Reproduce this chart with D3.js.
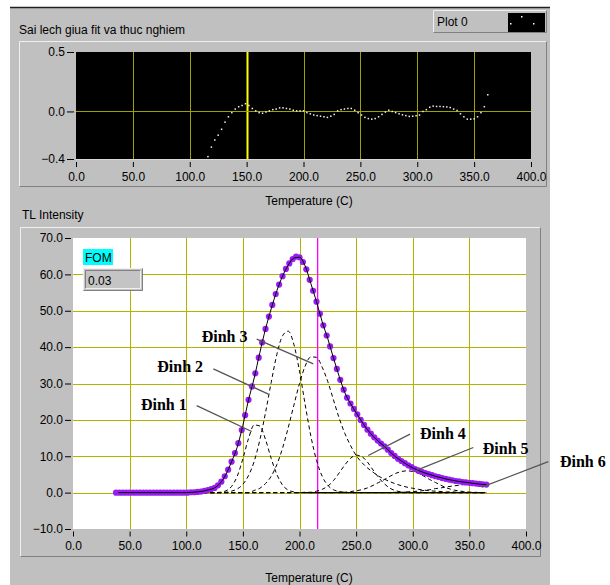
<!DOCTYPE html>
<html>
<head>
<meta charset="utf-8">
<script src="https://cdn.jsdelivr.net/npm/d3@7"></script>
<style>
    body { margin: 0; background: #fff; }
    text { font-family: "Liberation Sans", Arial, sans-serif; font-size: 12px; fill: #000; }
    .peak_label { font-family: "Liberation Serif", serif; font-weight: bold; font-size: 16px; }
</style>
</head>
<body>
<svg id="chart_svg" width="610" height="585"></svg>
<script>
// ---- data ----
var xTicks = [0, 50, 100, 150, 200, 250, 300, 350, 400];
var resTicks = [-0.4, 0.0, 0.5];
var tlTicks = [-10, 0, 10, 20, 30, 40, 50, 60, 70];
var cursorTemp = 150;      // yellow cursor, top graph
var markerTemp = 215.5;    // magenta cursor, bottom graph
var fomValue = "0.03";

// residual (fit - measured), first point at 116 C, every 3 C
var residualStart = 116;
var residual = [-0.38, -0.30, -0.24, -0.20, -0.15, -0.09, -0.045, -0.01, 0.02, 0.04,
    0.05, 0.065, 0.05, 0.025, 0.005, -0.01, -0.015, -0.005, 0.005, 0.015,
    0.02, 0.03, 0.03, 0.025, 0.02, 0.01, 0.005, 0.005, 0.005, -0.01,
    -0.02, -0.03, -0.035, -0.04, -0.045, -0.05, -0.04, -0.025, 0.005, 0.015,
    0.02, 0.025, 0.025, 0.01, -0.01, -0.03, -0.05, -0.06, -0.065, -0.06,
    -0.045, -0.025, -0.005, 0.01, 0.0, -0.01, -0.02, -0.028, -0.035, -0.042,
    -0.04, -0.036, -0.03, 0.0, 0.015, 0.035, 0.045, 0.042, 0.042, 0.04,
    0.038, 0.033, 0.02, 0.008, -0.02, -0.045, -0.065, -0.065, -0.062, -0.045,
    -0.01, 0.04, 0.14];

// measured TL points, first at 38 C, every 3 C
var measuredStart = 38;
var measured = [0, 0, 0, 0, 0, 0, 0, 0, 0, 0, 0, 0, 0, 0, 0, 0, 0, 0, 0, 0, 0, 0,
    0.1, 0.1, 0.2, 0.3, 0.5, 0.7, 1.0, 1.3, 2.0, 3.0,
    4.5, 6.3, 8.5, 10.9, 13.6, 17.2, 21.3, 25.5, 29.2, 32.8,
    37.1, 41.3, 45.0, 48.4, 51.6, 54.6, 57.2, 59.5, 61.5, 63.0,
    64.2, 64.9, 64.7, 63.4, 61.4, 58.5, 55.5, 52.5, 49.2, 46.0,
    43.2, 40.2, 37.0, 34.0, 31.0, 28.3, 26.1, 24.5, 23.0, 21.5,
    20.0, 18.6, 17.3, 16.2, 15.2, 14.3, 13.5, 12.7, 11.8, 10.9,
    10.1, 9.3, 8.7, 8.1, 7.5, 7.0, 6.5, 6.1, 5.7, 5.4,
    5.1, 4.8, 4.5, 4.3, 4.0, 3.8, 3.6, 3.4, 3.2, 3.1,
    2.9, 2.8, 2.7, 2.6, 2.5, 2.4, 2.3, 2.2];

// fitted curve, first at 40 C, every 5 C
var fitStart = 40;
var fitted = [0, 0, 0, 0, 0, 0, 0, 0, 0, 0, 0, 0, 0,
    0.1, 0.2, 0.4, 0.8, 1.3, 2.6, 5, 8.5, 12.5, 18.5,
    25.5, 31.5, 38.5, 45, 50.5, 55.5, 59.5, 62.5, 64.5, 64.7,
    62.3, 57.5, 52.5, 47, 42.3, 37, 32, 27.5, 24.5, 22,
    19.5, 17.3, 15.5, 14, 12.7, 11.2, 9.8, 8.7, 7.7, 6.8,
    6.1, 5.5, 5, 4.5, 4.1, 3.7, 3.4, 3.1, 2.9, 2.7,
    2.5, 2.3, 2.2];

// deconvolved peaks, first at 115 C, every 5 C
var peakStart = 115;
var peak1 = [0, 0, 0, 0.1, 0.5, 1.7, 4.5, 9.3, 14.9, 18.6, 18.3, 14.6, 9.4, 5.0, 2.1, 0.7, 0.2,
    0, 0, 0, 0, 0, 0, 0, 0, 0, 0, 0, 0, 0, 0, 0, 0, 0, 0, 0, 0, 0, 0, 0, 0, 0, 0, 0, 0, 0, 0, 0, 0, 0, 0];
var peak2 = [0, 0, 0, 0, 0.1, 0.4, 1.0, 2.3, 4.7, 8.6, 14.5, 22.0, 30.3, 38.0, 43.1, 44.4, 40.8,
    33.4, 24.2, 15.6, 8.9, 4.5, 2.0, 0.8, 0.3, 0.1,
    0, 0, 0, 0, 0, 0, 0, 0, 0, 0, 0, 0, 0, 0, 0, 0, 0, 0, 0, 0, 0, 0, 0, 0, 0];
var peak3 = [0, 0, 0, 0, 0, 0, 0, 0, 0, 0.6, 1.2, 2.5, 4.5, 7.7, 12.2, 17.8, 24.0,
    30.0, 34.8, 37.3, 37.2, 34.5, 30.5, 25.5, 20.5, 16.3, 13.0, 10.2, 8.3, 6.8, 5.6,
    4.5, 3.7, 3.0, 2.4, 1.9, 1.5, 1.2, 0.9, 0.7, 0.5, 0.4, 0.3, 0.2, 0.2, 0.1, 0.1, 0.1, 0, 0, 0];
var peak4 = [0, 0, 0, 0, 0, 0, 0, 0, 0, 0, 0, 0, 0, 0, 0, 0, 0,
    0, 0.1, 0.1, 0.4, 0.9, 1.8, 3.3, 5.4, 7.6, 9.4, 10.3, 9.9, 8.4, 6.2, 4.1, 2.4, 1.2, 0.5, 0.2, 0.1,
    0, 0, 0, 0, 0, 0, 0, 0, 0, 0, 0, 0, 0, 0];
var peak5 = [0, 0, 0, 0, 0, 0, 0, 0, 0, 0, 0, 0, 0, 0, 0, 0, 0, 0, 0, 0, 0, 0, 0, 0,
    0.1, 0.1, 0.3, 0.5, 0.8, 1.3, 2.0, 2.8, 3.6, 4.5, 5.3, 5.8, 6.0, 5.8, 5.3, 4.5,
    3.6, 2.8, 2.0, 1.3, 0.8, 0.5, 0.3, 0.1, 0.1, 0, 0];
var peak6 = [0, 0, 0, 0, 0, 0, 0, 0, 0, 0, 0, 0, 0, 0, 0, 0, 0, 0, 0, 0, 0, 0, 0, 0, 0, 0, 0, 0, 0, 0, 0, 0, 0,
    0, 0.1, 0.1, 0.2, 0.3, 0.4, 0.6, 0.8, 1.1, 1.3, 1.6, 1.8, 2.0, 2.2, 2.2, 2.2, 2.0, 1.8];
var peaks = [peak1, peak2, peak3, peak4, peak5, peak6];
var baselineT = [205, 362];

// peak labels and their pointers (temperature, intensity)
var peakNames = ["Đinh 1", "Đinh 2", "Đinh 3", "Đinh 4", "Đinh 5", "Đinh 6"];
var labelT = [60, 74.4, 113.6, 306.4, 361.8, 430];
var labelI = [22.8, 33.2, 41.5, 14.8, 10.7, 7.1];
var pointFromT = [109.2, 123.9, 162.2, 297.6, 353.5, 419.7];
var pointFromI = [23.9, 34, 42.2, 16.1, 12.4, 8.5];
var pointToT = [157.8, 172.5, 212.2, 260.7, 302, 360.9];
var pointToI = [16.8, 27.1, 35.4, 10.2, 6, 1.5];

main();

function main() {
    var svg = d3.select("#chart_svg");

    // grey panel
    svg.append("rect").attr("x", 10).attr("y", 8).attr("width", 540).attr("height", 577).attr("fill", "#c0c0c0");
    svg.append("line").attr("x1", 10).attr("x2", 550).attr("y1", 7.5).attr("y2", 7.5)
        .attr("stroke", "#202020").attr("stroke-width", 1.5);

    // legend "Plot 0"
    bevel(svg, 433, 10, 114, 23, true);
    svg.append("text").attr("x", 437).attr("y", 26).text("Plot 0");
    svg.append("rect").attr("x", 508).attr("y", 13).attr("width", 37).attr("height", 19).attr("fill", "#000");
    [[510, 23], [521, 16], [533, 23]].forEach(function (p) {
        svg.append("rect").attr("x", p[0]).attr("y", p[1]).attr("width", 1.5).attr("height", 1.5).attr("fill", "#fff");
    });

    svg.append("text").attr("x", 19).attr("y", 34).text("Sai lech giua fit va thuc nghiem");

    draw_residual(svg);

    svg.append("text").attr("x", 309).attr("y", 205).attr("text-anchor", "middle").text("Temperature (C)");
    svg.append("text").attr("x", 22).attr("y", 219).text("TL Intensity");

    draw_tl(svg);

    svg.append("text").attr("x", 309).attr("y", 582).attr("text-anchor", "middle").text("Temperature (C)");
}

function bevel(g, x, y, w, h, raised) {
    var light = raised ? "#f0f0f0" : "#808080";
    var dark = raised ? "#808080" : "#f0f0f0";
    g.append("path").attr("d", "M" + (x + 0.5) + "," + (y + h - 0.5) + "V" + (y + 0.5) + "H" + (x + w - 0.5))
        .attr("fill", "none").attr("stroke", light);
    g.append("path").attr("d", "M" + (x + w - 0.5) + "," + (y + 0.5) + "V" + (y + h - 0.5) + "H" + (x + 0.5))
        .attr("fill", "none").attr("stroke", dark);
}

function draw_residual(svg) {
    var x = d3.scaleLinear().domain([0, 400]).range([76, 531]);
    var y = d3.scaleLinear().domain([-0.4, 0.5]).range([159, 52]);

    bevel(svg, 19, 41, 528, 146, true);

    svg.append("rect").attr("x", 76).attr("y", 52).attr("width", 455).attr("height", 107).attr("fill", "#000");
    svg.append("line").attr("x1", 76).attr("x2", 531).attr("y1", 159.5).attr("y2", 159.5).attr("stroke", "#d8d8d8");

    var grid = svg.append("g");
    grid.selectAll(".vgrid").data(xTicks.slice(1, -1)).enter().append("line")
        .attr("x1", function (d) { return Math.round(x(d)) + 0.5; })
        .attr("x2", function (d) { return Math.round(x(d)) + 0.5; })
        .attr("y1", 52).attr("y2", 159)
        .attr("stroke", function (d) { return d == cursorTemp ? "#ffff00" : "#a0a000"; })
        .attr("stroke-width", function (d) { return d == cursorTemp ? 2 : 1; });
    grid.append("line").attr("x1", 76).attr("x2", 531)
        .attr("y1", Math.round(y(0)) + 0.5).attr("y2", Math.round(y(0)) + 0.5)
        .attr("stroke", "#a0a000");

    svg.append("g").selectAll("rect").data(residual).enter().append("rect")
        .attr("x", function (d, i) { return x(residualStart + 3 * i) - 0.75; })
        .attr("y", function (d) { return y(d) - 0.75; })
        .attr("width", 1.5).attr("height", 1.5)
        .attr("fill", "#f0f0f0");

    var xAxis = svg.append("g").attr("transform", "translate(0,162)")
        .call(d3.axisBottom(x).tickValues(xTicks).tickFormat(d3.format(".1f")).tickSize(5).tickPadding(5.5));
    var yAxis = svg.append("g").attr("transform", "translate(74,0)")
        .call(d3.axisLeft(y).tickValues(resTicks).tickFormat(d3.format(".1f")).tickSize(7).tickPadding(2));
    style_axis(xAxis);
    style_axis(yAxis);
}

function draw_tl(svg) {
    var x = d3.scaleLinear().domain([0, 400]).range([73, 526]);
    var y = d3.scaleLinear().domain([-10, 70]).range([529, 238]);

    bevel(svg, 20, 227, 521, 330, true);
    svg.append("rect").attr("x", 73).attr("y", 238).attr("width", 453).attr("height", 291).attr("fill", "#fff");

    var grid = svg.append("g");
    grid.selectAll(".vgrid").data(xTicks.slice(1, -1)).enter().append("line")
        .attr("x1", function (d) { return Math.round(x(d)) + 0.5; })
        .attr("x2", function (d) { return Math.round(x(d)) + 0.5; })
        .attr("y1", 238).attr("y2", 529)
        .attr("stroke", "#b4b400");
    grid.selectAll(".hgrid").data(tlTicks.slice(1, -1)).enter().append("line")
        .attr("x1", 73).attr("x2", 526)
        .attr("y1", function (d) { return Math.round(y(d)) + 0.5; })
        .attr("y2", function (d) { return Math.round(y(d)) + 0.5; })
        .attr("stroke", "#b4b400");

    // magenta cursor
    svg.append("rect")
        .attr("x", Math.round(x(markerTemp))).attr("y", 238)
        .attr("width", 1.3).attr("height", 291)
        .attr("fill", "#ff00ff");

    // solid baseline under the tail
    svg.append("line").attr("x1", x(baselineT[0])).attr("x2", x(baselineT[1]))
        .attr("y1", y(0)).attr("y2", y(0)).attr("stroke", "#000");

    var peakLine = d3.line()
        .x(function (d, i) { return x(peakStart + 5 * i); })
        .y(function (d) { return y(d); })
        .curve(d3.curveMonotoneX);
    svg.append("g").selectAll("path").data(peaks).enter().append("path")
        .attr("d", peakLine)
        .attr("fill", "none")
        .attr("stroke", "#000")
        .attr("stroke-width", 1)
        .attr("stroke-dasharray", "4,3");

    svg.append("g").selectAll("circle").data(measured).enter().append("circle")
        .attr("cx", function (d, i) { return x(measuredStart + 3 * i); })
        .attr("cy", function (d) { return y(d); })
        .attr("r", 3.1)
        .attr("fill", "#9a1cf5");

    var fitLine = d3.line()
        .x(function (d, i) { return x(fitStart + 5 * i); })
        .y(function (d) { return y(d); })
        .curve(d3.curveMonotoneX);
    svg.append("path").datum(fitted)
        .attr("d", fitLine)
        .attr("fill", "none")
        .attr("stroke", "#000")
        .attr("stroke-width", 1);

    var xAxis = svg.append("g").attr("transform", "translate(0,531.5)")
        .call(d3.axisBottom(x).tickValues(xTicks).tickFormat(d3.format(".1f")).tickSize(5).tickPadding(5));
    var yAxis = svg.append("g").attr("transform", "translate(71,0)")
        .call(d3.axisLeft(y).tickValues(tlTicks).tickFormat(d3.format(".1f")).tickSize(6).tickPadding(2));
    style_axis(xAxis);
    style_axis(yAxis);

    // FOM indicator
    svg.append("rect").attr("x", 83).attr("y", 249).attr("width", 30).attr("height", 16).attr("fill", "#00ffff");
    svg.append("text").attr("x", 85).attr("y", 262).text("FOM");
    svg.append("rect").attr("x", 83).attr("y", 268).attr("width", 60).attr("height", 23).attr("fill", "#c4c4c4");
    bevel(svg, 83, 268, 60, 23, true);
    bevel(svg, 85, 270, 56, 19, false);
    svg.append("text").attr("x", 88).attr("y", 285).text(fomValue);

    // peak labels
    var ann = svg.append("g");
    peakNames.forEach(function (name, i) {
        ann.append("line")
            .attr("x1", x(pointFromT[i])).attr("y1", y(pointFromI[i]))
            .attr("x2", x(pointToT[i])).attr("y2", y(pointToI[i]))
            .attr("stroke", "#555").attr("stroke-width", 1.3);
        ann.append("text").attr("class", "peak_label")
            .attr("x", x(labelT[i])).attr("y", y(labelI[i]))
            .text(name);
    });
}

function style_axis(g) {
    g.select(".domain").remove();
    g.selectAll(".tick line").attr("stroke", "#000");
    g.selectAll(".tick text").attr("fill", "#000");
    g.attr("font-size", null).attr("font-family", null);
}
</script>
</body>
</html>
